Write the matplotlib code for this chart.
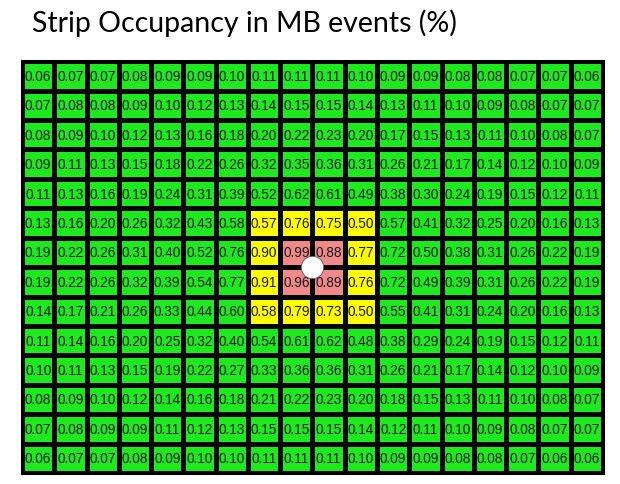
import numpy as np
import matplotlib.pyplot as plt
from matplotlib.colors import ListedColormap

# occupancy values (%), top row first
occupancy = [
    [0.06, 0.07, 0.07, 0.08, 0.09, 0.09, 0.10, 0.11, 0.11, 0.11, 0.10, 0.09, 0.09, 0.08, 0.08, 0.07, 0.07, 0.06],
    [0.07, 0.08, 0.08, 0.09, 0.10, 0.12, 0.13, 0.14, 0.15, 0.15, 0.14, 0.13, 0.11, 0.10, 0.09, 0.08, 0.07, 0.07],
    [0.08, 0.09, 0.10, 0.12, 0.13, 0.16, 0.18, 0.20, 0.22, 0.23, 0.20, 0.17, 0.15, 0.13, 0.11, 0.10, 0.08, 0.07],
    [0.09, 0.11, 0.13, 0.15, 0.18, 0.22, 0.26, 0.32, 0.35, 0.36, 0.31, 0.26, 0.21, 0.17, 0.14, 0.12, 0.10, 0.09],
    [0.11, 0.13, 0.16, 0.19, 0.24, 0.31, 0.39, 0.52, 0.62, 0.61, 0.49, 0.38, 0.30, 0.24, 0.19, 0.15, 0.12, 0.11],
    [0.13, 0.16, 0.20, 0.26, 0.32, 0.43, 0.58, 0.57, 0.76, 0.75, 0.50, 0.57, 0.41, 0.32, 0.25, 0.20, 0.16, 0.13],
    [0.19, 0.22, 0.26, 0.31, 0.40, 0.52, 0.76, 0.90, 0.99, 0.88, 0.77, 0.72, 0.50, 0.38, 0.31, 0.26, 0.22, 0.19],
    [0.19, 0.22, 0.26, 0.32, 0.39, 0.54, 0.77, 0.91, 0.96, 0.89, 0.76, 0.72, 0.49, 0.39, 0.31, 0.26, 0.22, 0.19],
    [0.14, 0.17, 0.21, 0.26, 0.33, 0.44, 0.60, 0.58, 0.79, 0.73, 0.50, 0.55, 0.41, 0.31, 0.24, 0.20, 0.16, 0.13],
    [0.11, 0.14, 0.16, 0.20, 0.25, 0.32, 0.40, 0.54, 0.61, 0.62, 0.48, 0.38, 0.29, 0.24, 0.19, 0.15, 0.12, 0.11],
    [0.10, 0.11, 0.13, 0.15, 0.19, 0.22, 0.27, 0.33, 0.36, 0.36, 0.31, 0.26, 0.21, 0.17, 0.14, 0.12, 0.10, 0.09],
    [0.08, 0.09, 0.10, 0.12, 0.14, 0.16, 0.18, 0.21, 0.22, 0.23, 0.20, 0.18, 0.15, 0.13, 0.11, 0.10, 0.08, 0.07],
    [0.07, 0.08, 0.09, 0.09, 0.11, 0.12, 0.13, 0.15, 0.15, 0.15, 0.14, 0.12, 0.11, 0.10, 0.09, 0.08, 0.07, 0.07],
    [0.06, 0.07, 0.07, 0.08, 0.09, 0.10, 0.10, 0.11, 0.11, 0.11, 0.10, 0.09, 0.09, 0.08, 0.08, 0.07, 0.06, 0.06],
]

# highlighted zones: 0 = normal, 1 = yellow ring, 2 = pink centre
yellow_rows = [5, 6, 7, 8]
yellow_cols = [7, 8, 9, 10]
pink_rows = [6, 7]
pink_cols = [8, 9]

# beam spot (between the four central strips)
spot_x = [8.5]
spot_y = [6.5]

title = "Strip Occupancy in MB events (%)"

data = np.array(occupancy)
nrows, ncols = data.shape
zone = np.zeros_like(data, dtype=int)
for r in yellow_rows:
    for c in yellow_cols:
        zone[r, c] = 1
for r in pink_rows:
    for c in pink_cols:
        zone[r, c] = 2

cmap = ListedColormap(["#1ee81e", "#ffff00", "#f08a8a"])

fig = plt.figure(figsize=(6.2, 4.85), dpi=100)
ax = fig.add_axes([0.0355, 0.0227, 0.937, 0.849])

ax.pcolormesh(np.arange(ncols + 1) - 0.5, np.arange(nrows + 1) - 0.5, zone,
              cmap=cmap, vmin=-0.5, vmax=2.5, edgecolors="black", linewidth=2.2)
ax.set_xlim(-0.5, ncols - 0.5)
ax.set_ylim(nrows - 0.5, -0.5)

for r in range(nrows):
    for c in range(ncols):
        ax.text(c, r, "%.2f" % data[r, c], ha="center", va="center",
                fontsize=9.8, family="Liberation Sans", color="#1a1a1a")

ax.scatter(spot_x, spot_y, s=260, color="white", edgecolors="#555555",
           linewidths=0.6, zorder=5)

ax.set_xticks([])
ax.set_yticks([])
for s in ax.spines.values():
    s.set_linewidth(2.2)

fig.text(0.052, 0.952, title, fontsize=20.5, family="Lato", va="center", ha="left")

fig.savefig("out.png", dpi=100)
